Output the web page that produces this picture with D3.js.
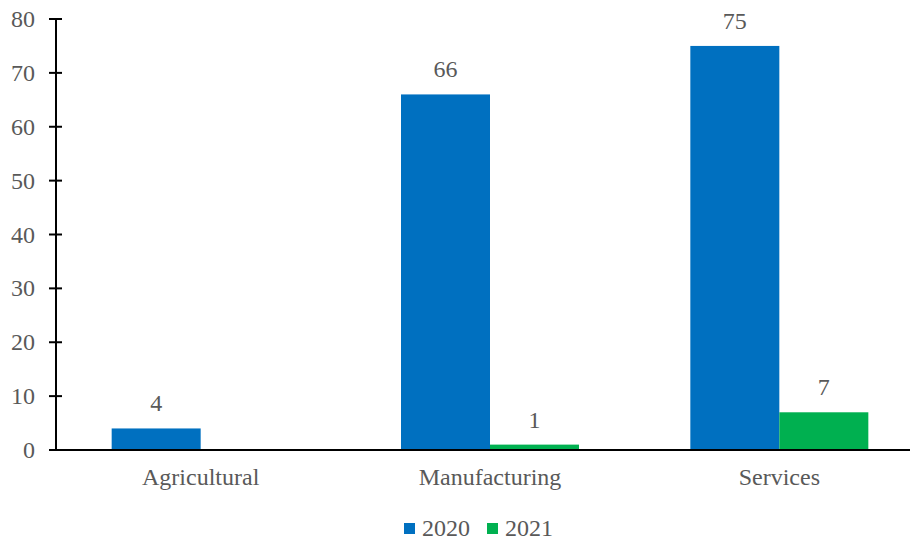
<!DOCTYPE html>
<html>
<head>
<meta charset="utf-8">
<script src="https://cdn.jsdelivr.net/npm/d3@7"></script>
<style>
  html, body { margin: 0; padding: 0; background: #fff; }
  svg { display: block; }
  text { font-family: "Liberation Serif", "Times New Roman", serif; fill: #595959; }
</style>
</head>
<body>
<svg id="chart" width="910" height="540"></svg>
<script>
// Sector values by year
const categories = ["Agricultural", "Manufacturing", "Services"];
const seriesNames = ["2020", "2021"];
const values2020 = [4, 66, 75];
const values2021 = [null, 1, 7];
const yTicks = [0, 10, 20, 30, 40, 50, 60, 70, 80];
const colors = ["#0070C0", "#00B050"];

const svg = d3.select("#chart");
const fontSize = 24;

const y = d3.scaleLinear().domain([0, 80]).range([450, 19]);
const x0 = d3.scaleBand().domain(categories).range([56, 924]);
const groupWidth = 178;
const x1 = d3.scaleBand().domain(seriesNames)
  .range([(x0.bandwidth() - groupWidth) / 2, (x0.bandwidth() + groupWidth) / 2]);

const seriesValues = [values2020, values2021];
const data = [];
categories.forEach((c, i) => {
  seriesNames.forEach((s, j) => {
    const v = seriesValues[j][i];
    if (v != null) data.push({ cat: c, series: s, value: v, color: colors[j] });
  });
});

// bars
svg.append("g").selectAll("rect").data(data).join("rect")
  .attr("x", d => x0(d.cat) + x1(d.series))
  .attr("width", x1.bandwidth())
  .attr("y", d => y(d.value))
  .attr("height", d => y(0) - y(d.value))
  .attr("fill", d => d.color);

// value labels
svg.append("g").selectAll("text").data(data).join("text")
  .attr("x", d => x0(d.cat) + x1(d.series) + x1.bandwidth() / 2)
  .attr("y", d => y(d.value) - 17)
  .attr("text-anchor", "middle")
  .style("font-size", fontSize + "px")
  .text(d => d.value);

// y axis
const yg = svg.append("g").attr("transform", "translate(56,0)");
yg.append("line").attr("x1", 0).attr("x2", 0).attr("y1", y(80)).attr("y2", y(0))
  .attr("stroke", "#000").attr("stroke-width", 2);
yg.selectAll(".tk").data(yTicks).join("line")
  .attr("x1", -7).attr("x2", 6)
  .attr("y1", d => y(d)).attr("y2", d => y(d))
  .attr("stroke", "#000").attr("stroke-width", 2);
yg.selectAll(".lbl").data(yTicks).join("text")
  .attr("x", -21)
  .attr("y", d => y(d) + 8)
  .attr("text-anchor", "end")
  .style("font-size", fontSize + "px")
  .text(d => d);

// x axis baseline
svg.append("line")
  .attr("x1", 49).attr("x2", 910)
  .attr("y1", y(0)).attr("y2", y(0))
  .attr("stroke", "#000").attr("stroke-width", 2);

// category labels
svg.append("g").selectAll("text").data(categories).join("text")
  .attr("x", d => x0(d) + x0.bandwidth() / 2)
  .attr("y", 485)
  .attr("text-anchor", "middle")
  .style("font-size", fontSize + "px")
  .text(d => d);

// legend
const legendX = [404, 487];
const lg = svg.append("g");
seriesNames.forEach((s, j) => {
  lg.append("rect").attr("x", legendX[j]).attr("y", 523).attr("width", 11).attr("height", 11)
    .attr("fill", colors[j]);
  lg.append("text").attr("x", legendX[j] + 18).attr("y", 536)
    .style("font-size", fontSize + "px").text(s);
});
</script>
</body>
</html>
